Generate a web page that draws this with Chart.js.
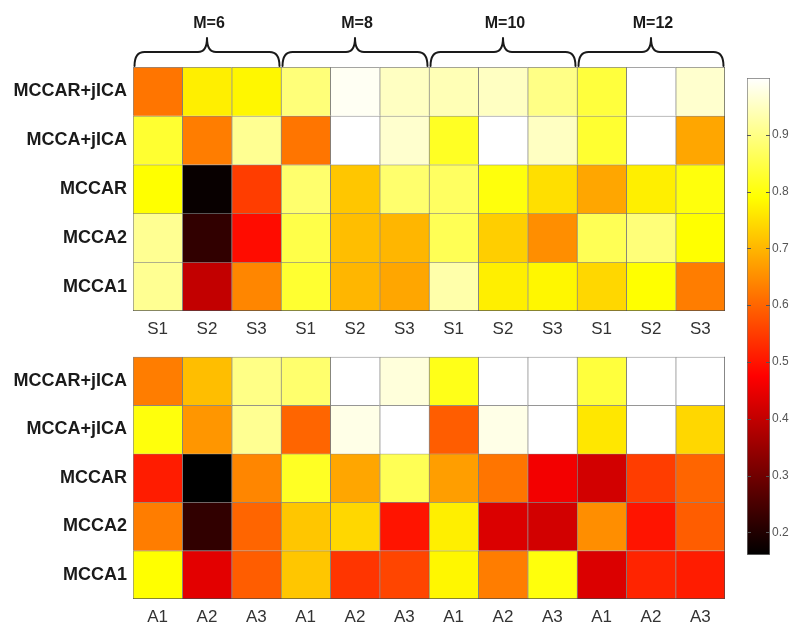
<!DOCTYPE html>
<html><head><meta charset="utf-8">
<script src="https://cdn.jsdelivr.net/npm/chart.js@4"></script>
<style>
html,body{margin:0;padding:0;background:#fff;}
#wrap{position:relative;width:800px;height:636px;overflow:hidden;background:#fff;}
canvas{position:absolute;}
</style></head><body>
<div id="wrap">
<canvas id="topChart" width="740" height="345" style="left:0;top:0"></canvas>
<canvas id="botChart" width="740" height="296" style="left:0;top:340px"></canvas>
<canvas id="cbarChart" width="80" height="636" style="left:720px;top:0"></canvas>
</div>
<script>
// ---- labels ----
const rowLabels = ['MCCAR+jICA', 'MCCA+jICA', 'MCCAR', 'MCCA2', 'MCCA1'];
const topColLabels = ['S1','S2','S3','S1','S2','S3','S1','S2','S3','S1','S2','S3'];
const botColLabels = ['A1','A2','A3','A1','A2','A3','A1','A2','A3','A1','A2','A3'];
const groupLabels = ['M=6', 'M=8', 'M=10', 'M=12'];
const colorbarTicks = [0.2, 0.3, 0.4, 0.5, 0.6, 0.7, 0.8, 0.9];
const CMIN = 0.16, CMAX = 1.0;

// ---- top panel (S1..S3), columns: M=6, M=8, M=10, M=12 ----
const topMCCARjICA = [0.62, 0.77, 0.78, 0.89, 0.99, 0.95, 0.94, 0.95, 0.90, 0.84, 1.00, 0.96];
const topMCCAjICA  = [0.83, 0.63, 0.91, 0.62, 1.00, 0.96, 0.82, 1.00, 0.95, 0.83, 1.00, 0.68];
const topMCCAR     = [0.79, 0.17, 0.55, 0.88, 0.72, 0.88, 0.87, 0.80, 0.75, 0.68, 0.77, 0.80];
const topMCCA2     = [0.91, 0.22, 0.49, 0.85, 0.71, 0.70, 0.86, 0.73, 0.65, 0.86, 0.89, 0.79];
const topMCCA1     = [0.91, 0.40, 0.64, 0.83, 0.70, 0.68, 0.93, 0.77, 0.78, 0.74, 0.79, 0.63];

// ---- bottom panel (A1..A3) ----
const botMCCARjICA = [0.63, 0.71, 0.90, 0.88, 1.00, 0.97, 0.81, 1.00, 1.00, 0.84, 1.00, 1.00];
const botMCCAjICA  = [0.80, 0.66, 0.91, 0.60, 0.98, 1.00, 0.59, 0.98, 1.00, 0.76, 1.00, 0.74];
const botMCCAR     = [0.51, 0.16, 0.64, 0.82, 0.68, 0.86, 0.67, 0.62, 0.46, 0.42, 0.55, 0.60];
const botMCCA2     = [0.63, 0.22, 0.60, 0.72, 0.74, 0.50, 0.77, 0.43, 0.42, 0.65, 0.50, 0.59];
const botMCCA1     = [0.79, 0.44, 0.59, 0.72, 0.54, 0.56, 0.78, 0.63, 0.80, 0.43, 0.52, 0.51];

const topRows = [topMCCARjICA, topMCCAjICA, topMCCAR, topMCCA2, topMCCA1];
const botRows = [botMCCARjICA, botMCCAjICA, botMCCAR, botMCCA2, botMCCA1];

const FONT = "'Liberation Sans', Arial, Helvetica, sans-serif";
const GRID = 'rgba(70,70,70,0.65)';

function clamp01(x) { return Math.max(0, Math.min(1, x)); }
function hot(v) {
  const t = clamp01((v - CMIN) / (CMAX - CMIN));
  const r = clamp01(t / 0.375), g = clamp01((t - 0.375) / 0.375), b = clamp01((t - 0.75) / 0.25);
  return `rgb(${Math.round(r*255)},${Math.round(g*255)},${Math.round(b*255)})`;
}

const outerEdge = {
  id: 'outerEdge',
  afterDatasetsDraw(chart) {
    const a = chart.chartArea, c = chart.ctx;
    c.save();
    c.strokeStyle = GRID; c.lineWidth = 1;
    c.beginPath();
    c.moveTo(Math.round(a.right) - 0.5, a.top);
    c.lineTo(Math.round(a.right) - 0.5, a.bottom);
    c.moveTo(a.left, Math.round(a.bottom) - 0.5);
    c.lineTo(a.right, Math.round(a.bottom) - 0.5);
    c.stroke();
    c.restore();
  }
};

const braces = {
  id: 'braces',
  afterDraw(chart) {
    const xs = chart.scales.x, c = chart.ctx;
    const half = (xs.getPixelForValue(1) - xs.getPixelForValue(0)) / 2;
    c.save();
    c.strokeStyle = '#1a1a1a'; c.lineWidth = 2; c.lineJoin = 'round'; c.lineCap = 'round';
    groupLabels.forEach((lab, g) => {
      const x0 = xs.getPixelForValue(3*g) - half + 1.5;
      const x1 = xs.getPixelForValue(3*g + 2) + half - 1.5;
      const xc = (x0 + x1) / 2;
      const yb = 66, yh = 52, yt = 38;
      c.beginPath();
      c.moveTo(x0, yb);
      c.quadraticCurveTo(x0, yh, x0 + 10, yh);
      c.lineTo(xc - 9, yh);
      c.quadraticCurveTo(xc, yh, xc, yt);
      c.quadraticCurveTo(xc, yh, xc + 9, yh);
      c.lineTo(x1 - 10, yh);
      c.quadraticCurveTo(x1, yh, x1, yb);
      c.stroke();
      c.fillStyle = '#1a1a1a';
      c.font = `bold 16px ${FONT}`;
      c.textAlign = 'center'; c.textBaseline = 'middle';
      c.fillText(lab, xc + 2, 24);
    });
    c.restore();
  }
};

function heatmap(id, colLabels, rows, padTop, xHeight, extraPlugins) {
  const n = rowLabels.length;
  return new Chart(document.getElementById(id), {
    type: 'bar',
    data: {
      labels: colLabels,
      datasets: rows.map((vals, i) => ({
        label: rowLabels[i],
        data: vals.map(() => [n - 1 - i - 0.5, n - 1 - i + 0.5]),
        backgroundColor: vals.map(hot),
        borderColor: GRID,
        borderWidth: {top: 1, left: 1, right: 0, bottom: 0},
        borderSkipped: false,
        grouped: false,
        barPercentage: 1,
        categoryPercentage: 1
      }))
    },
    options: {
      responsive: false,
      animation: false,
      layout: {padding: {top: padTop, right: 15, left: 0, bottom: 0}},
      plugins: {legend: {display: false}, tooltip: {enabled: false}},
      scales: {
        x: {
          type: 'category', offset: true,
          grid: {display: false, drawTicks: false}, border: {display: false},
          ticks: {font: {family: FONT, size: 17}, color: '#333', padding: 8, maxRotation: 0, autoSkip: false},
          afterFit: s => { s.height = xHeight; }
        },
        y: {
          type: 'linear', min: -0.5, max: n - 0.5,
          grid: {display: false, drawTicks: false}, border: {display: false},
          afterBuildTicks: s => { s.ticks = rowLabels.map((_, i) => ({value: n - 1 - i})); },
          ticks: {
            font: {family: FONT, size: 18, weight: 'bold'}, color: '#1a1a1a', padding: 6,
            callback: v => rowLabels[n - 1 - v]
          },
          afterFit: s => { s.width = 133; }
        }
      }
    },
    plugins: [outerEdge].concat(extraPlugins)
  });
}

heatmap('topChart', topColLabels, topRows, 67, 34, [braces]);
heatmap('botChart', botColLabels, botRows, 12, 37, []);

// ---- colorbar ----
const cbarTickMarks = {
  id: 'cbarTickMarks',
  afterDatasetsDraw(chart) {
    const a = chart.chartArea, ys = chart.scales.y, c = chart.ctx;
    c.save();
    c.strokeStyle = '#555'; c.lineWidth = 1;
    c.beginPath();
    colorbarTicks.forEach(v => {
      const y = Math.round(ys.getPixelForValue(v)) + 0.5;
      c.moveTo(a.left, y); c.lineTo(a.left + 4, y);
      c.moveTo(a.right - 4, y); c.lineTo(a.right, y);
    });
    c.stroke();
    c.restore();
  }
};

new Chart(document.getElementById('cbarChart'), {
  type: 'bar',
  data: {
    labels: ['cbar'],
    datasets: [{
      data: [[CMIN, CMAX]],
      backgroundColor: (ctx) => {
        const ch = ctx.chart;
        if (!ch.chartArea) return '#000';
        const ys = ch.scales.y;
        const g = ch.ctx.createLinearGradient(0, ys.getPixelForValue(CMIN), 0, ys.getPixelForValue(CMAX));
        g.addColorStop(0, '#000000');
        g.addColorStop(0.375, '#ff0000');
        g.addColorStop(0.75, '#ffff00');
        g.addColorStop(1, '#ffffff');
        return g;
      },
      borderColor: '#777',
      borderWidth: 1,
      borderSkipped: false,
      barPercentage: 1,
      categoryPercentage: 1
    }]
  },
  options: {
    responsive: false,
    animation: false,
    layout: {padding: {top: 78, bottom: 81, left: 27, right: 0}},
    plugins: {legend: {display: false}, tooltip: {enabled: false}},
    scales: {
      x: {display: false},
      y: {
        type: 'linear', position: 'right', min: CMIN, max: CMAX,
        grid: {display: false, drawTicks: false}, border: {display: false},
        afterBuildTicks: s => { s.ticks = colorbarTicks.map(v => ({value: v})); },
        ticks: {font: {family: FONT, size: 12}, color: '#555', padding: 2, callback: v => v.toFixed(1)},
        afterFit: s => { s.width = 30; }
      }
    }
  },
  plugins: [cbarTickMarks]
});
</script>
</body></html>
